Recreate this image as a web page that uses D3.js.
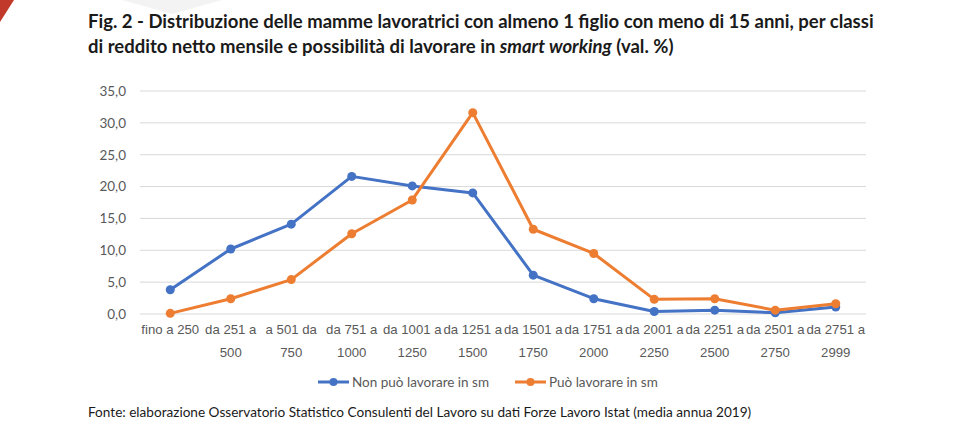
<!DOCTYPE html>
<html>
<head>
<meta charset="utf-8">
<script src="https://cdn.jsdelivr.net/npm/d3@7"></script>
<style>
  body { margin: 0; background: #fff; }
  svg { display: block; font-family: Lato, "Open Sans", sans-serif; }
</style>
</head>
<body>
<svg id="chart" width="960" height="432"></svg>
<script>
const categories = [
  ['fino a 250', ''], ['da 251 a', '500'], ['a 501 da', '750'], ['da 751 a', '1000'],
  ['da 1001 a', '1250'], ['da 1251 a', '1500'], ['da 1501 a', '1750'], ['da 1751 a', '2000'],
  ['da 2001 a', '2250'], ['da 2251 a', '2500'], ['da 2501 a', '2750'], ['da 2751 a', '2999']
];
const nonPuo = [3.8, 10.2, 14.1, 21.6, 20.1, 19.0, 6.1, 2.4, 0.4, 0.6, 0.2, 1.1];
const puo = [0.1, 2.4, 5.4, 12.6, 17.9, 31.6, 13.3, 9.5, 2.3, 2.4, 0.6, 1.6];
const yTicks = [0, 5, 10, 15, 20, 25, 30, 35];

const series = [
  { name: 'Non può lavorare in sm', values: nonPuo, color: '#4472C4' },
  { name: 'Può lavorare in sm', values: puo, color: '#ED7D31' }
];

const svg = d3.select('#chart');

// decorazioni della pagina
svg.append('polygon').attr('points', '0,0 14,0 0,22').attr('fill', '#c0392b');
svg.append('polygon').attr('points', '122,0 222,0 172,14').attr('fill', '#f3f3f3');

// titolo
const title = svg.append('text').attr('x', 88).attr('font-weight', 700)
  .attr('font-size', 18.5).attr('fill', '#1a1a1a');
title.append('tspan').attr('x', 88).attr('y', 28)
  .text('Fig. 2 - Distribuzione delle mamme lavoratrici con almeno 1 figlio con meno di 15 anni, per classi');
const t2 = title.append('tspan').attr('x', 88).attr('y', 53);
t2.append('tspan').text('di reddito netto mensile e possibilità di lavorare in ');
t2.append('tspan').attr('font-style', 'italic').text('smart working');
t2.append('tspan').text(' (val. %)');

const x = d3.scaleBand().domain(d3.range(categories.length)).range([140, 866]);
const y = d3.scaleLinear().domain([0, 35]).range([314, 91]);

// griglia
svg.append('g').selectAll('line').data(yTicks).join('line')
  .attr('x1', 140).attr('x2', 866)
  .attr('y1', d => y(d)).attr('y2', d => y(d))
  .attr('stroke', '#d9d9d9').attr('stroke-width', 1);

// asse y
const yAxis = svg.append('g').attr('transform', 'translate(129,0)')
  .call(d3.axisLeft(y).tickValues(yTicks).tickSize(0).tickFormat(d => d3.format('.1f')(d).replace('.', ',')));
yAxis.select('.domain').remove();
yAxis.selectAll('text').attr('font-size', 13.5).attr('fill', '#595959')
  .attr('font-family', 'Lato, "Open Sans", sans-serif');

// asse x
const xAxis = svg.append('g').attr('transform', 'translate(0,314)')
  .call(d3.axisBottom(x).tickSize(0).tickFormat(''));
xAxis.select('.domain').remove();
xAxis.selectAll('.tick').each(function(d) {
  const t = d3.select(this).append('text').attr('fill', '#595959').attr('font-size', 13.2)
    .attr('text-anchor', 'middle');
  t.append('tspan').attr('x', 0).attr('y', 20).text(categories[d][0]);
  t.append('tspan').attr('x', 0).attr('y', 43).text(categories[d][1]);
});

// linee
const line = d3.line().x((d, i) => x(i) + x.bandwidth() / 2).y(d => y(d));
series.forEach(s => {
  const g = svg.append('g');
  g.append('path').datum(s.values).attr('d', line)
    .attr('fill', 'none').attr('stroke', s.color).attr('stroke-width', 3)
    .attr('stroke-linejoin', 'round');
  g.selectAll('circle').data(s.values).join('circle')
    .attr('cx', (d, i) => x(i) + x.bandwidth() / 2).attr('cy', d => y(d))
    .attr('r', 4.5).attr('fill', s.color);
});

// legenda
const legendX = [318, 515];
series.forEach((s, i) => {
  const g = svg.append('g').attr('transform', `translate(${legendX[i]},382)`);
  g.append('line').attr('x1', 0).attr('x2', 31).attr('stroke', s.color).attr('stroke-width', 3);
  g.append('circle').attr('cx', 15.5).attr('r', 4).attr('fill', s.color);
  g.append('text').attr('x', 34).attr('dy', '0.35em').attr('font-size', 13.5)
    .attr('fill', '#595959').text(s.name);
});

// fonte
svg.append('text').attr('x', 88).attr('y', 417).attr('font-size', 13.6).attr('fill', '#1a1a1a')
  .text('Fonte: elaborazione Osservatorio Statistico Consulenti del Lavoro su dati Forze Lavoro Istat (media annua 2019)');
</script>
</body>
</html>
